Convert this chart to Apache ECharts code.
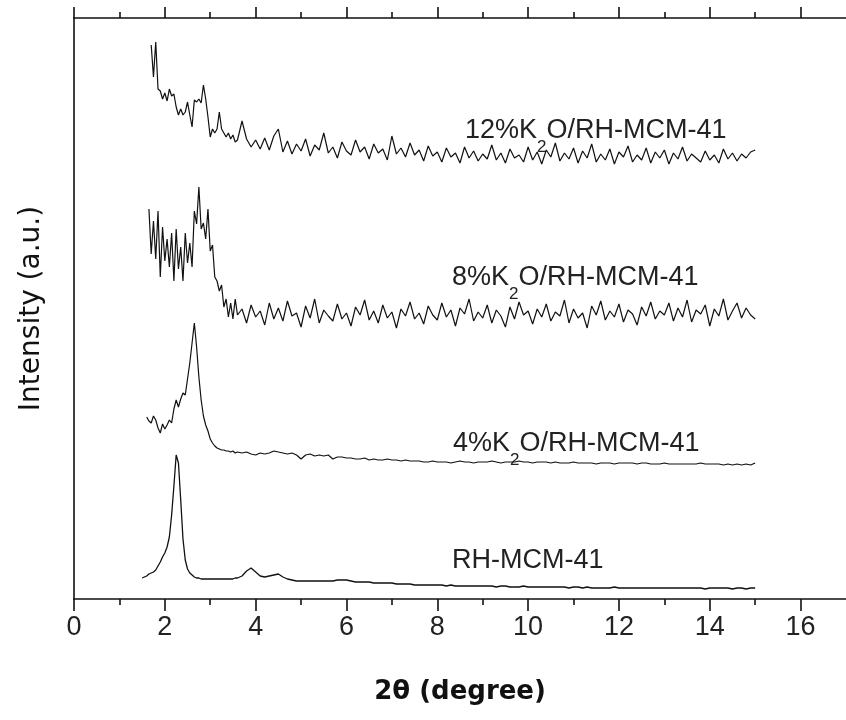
<!DOCTYPE html>
<html>
<head>
<meta charset="utf-8">
<script src="https://cdn.jsdelivr.net/npm/echarts@6/dist/echarts.min.js"></script>
<style>html,body{margin:0;padding:0;background:#fff}#c{width:846px;height:720px}</style>
</head>
<body>
<div id="c"></div>
<script>
// 2θ sampling positions (degree)
const twoTheta = [1.50,1.55,1.60,1.65,1.70,1.75,1.80,1.85,1.90,1.95,2.00,2.05,2.10,2.15,2.20,2.25,2.30,2.35,2.40,2.45,2.50,2.55,2.60,2.65,2.70,2.75,2.80,2.85,2.90,2.95,3.00,3.05,3.10,3.15,3.20,3.25,3.30,3.35,3.40,3.45,3.50,3.55,3.60,
3.7,3.8,3.9,4.0,4.1,4.2,4.3,4.4,4.5,4.6,
4.7,4.8,4.9,5.0,5.1,5.2,5.3,5.4,5.5,5.6,
5.7,5.8,5.9,6.0,6.1,6.2,6.3,6.4,6.5,6.6,
6.7,6.8,6.9,7.0,7.1,7.2,7.3,7.4,7.5,7.6,
7.7,7.8,7.9,8.0,8.1,8.2,8.3,8.4,8.5,8.6,
8.7,8.8,8.9,9.0,9.1,9.2,9.3,9.4,9.5,9.6,
9.7,9.8,9.9,10.0,10.1,10.2,10.3,10.4,10.5,10.6,
10.7,10.8,10.9,11.0,11.1,11.2,11.3,11.4,11.5,11.6,
11.7,11.8,11.9,12.0,12.1,12.2,12.3,12.4,12.5,12.6,
12.7,12.8,12.9,13.0,13.1,13.2,13.3,13.4,13.5,13.6,
13.7,13.8,13.9,14.0,14.1,14.2,14.3,14.4,14.5,14.6,
14.7,14.8,14.9,15.0];

// Intensity (a.u., stacked offsets as in the figure)
const rhMCM41 = [21,22,23,25,26,27,29,33,37,42,46,52,62,84,113,144,136,99,60,39,30,26,24,22,21,21,20,20,20,20,20,20,20,20,20,20,20,20,20,20,20,21,21,
23,28,31,27,23,22,23,24,25,22,
20,19,18,18,18,18,18,18,18,18,
18,19,19,19,18,17,17,17,17,16,
16,16,16,16,15,15,15,15,14,14,
14,14,14,14,14,13,14,13,13,13,
13,13,13,13,13,13,12,13,13,12,
12,12,13,12,12,12,12,12,12,12,
12,12,11,12,12,11,12,11,11,11,
11,11,12,11,11,11,11,11,11,11,
11,11,11,11,11,11,11,11,11,11,
11,11,10,11,11,11,11,11,10,11,
11,10,11,11];

const k2o4 = [null,null,182,178,176,183,179,171,166,175,170,174,179,176,190,199,192,200,206,204,220,236,256,276,252,222,199,183,174,168,160,156,153,151,150,149,149,148,148,147,148,146,147,
146,147,145,144,146,145,146,148,147,146,
145,146,144,140,144,145,143,144,143,144,
140,142,142,141,141,140,140,141,139,140,
139,139,140,139,139,138,139,138,138,138,
137,137,138,137,137,137,136,137,138,137,
137,136,137,137,137,138,137,136,137,137,
137,138,137,137,136,137,137,137,136,137,
136,136,136,137,136,136,136,136,135,136,
136,136,135,136,136,136,136,135,136,136,
135,135,135,136,135,135,135,135,135,135,
135,136,135,135,135,135,134,135,134,135,
134,135,134,136];

const k2o8 = [null,null,null,390,345,378,340,388,322,372,338,360,332,366,318,370,330,352,318,366,336,356,332,388,375,412,370,376,360,390,348,354,322,318,308,314,292,300,282,296,280,300,284,
290,276,294,282,288,274,296,280,291,278,
298,283,286,272,293,281,300,276,289,283,
278,295,280,286,273,292,284,299,279,288,
276,294,281,287,271,290,283,297,280,286,
275,293,284,279,296,282,289,273,291,285,
300,278,287,281,294,276,289,283,272,292,
280,297,284,288,275,290,282,295,278,287,
283,299,276,290,281,286,271,293,284,298,
279,288,282,295,277,289,285,274,292,283,
297,280,288,284,296,278,291,282,299,277,
289,285,294,273,290,283,300,279,288,296,
281,291,284,280];

const k2o12 = [null,null,null,null,554,522,557,510,508,500,506,498,510,503,505,492,484,490,484,487,497,484,472,499,497,500,496,514,500,482,462,470,466,470,487,470,466,462,466,460,464,457,459,
478,460,452,459,450,461,449,463,470,447,
458,445,455,448,460,443,454,449,466,446,
452,441,457,448,444,459,447,452,440,455,
446,450,439,463,445,451,442,456,444,449,
438,453,443,447,437,451,442,446,436,452,
441,448,438,445,440,454,439,446,436,450,
441,444,437,452,439,447,435,449,442,456,
438,446,440,451,436,448,441,455,437,445,
439,450,435,447,442,453,437,444,439,451,
436,447,441,449,435,446,440,452,438,445,
441,437,448,439,444,436,450,440,446,438,
445,441,447,449];

const seriesNames = ['RH-MCM-41','4%K2O/RH-MCM-41','8%K2O/RH-MCM-41','12%K2O/RH-MCM-41'];
const majorTicks = [0,2,4,6,8,10,12,14,16];
const minorTicks = [1,3,5,7,9,11,13,15];

function toPairs(ys){
  const out = [];
  for (let i = 0; i < twoTheta.length; i++) if (ys[i] != null) out.push([twoTheta[i], ys[i]]);
  return out;
}

const ink = '#111';
const lineSeries = (name, ys, w) => ({
  name, type:'line', data: toPairs(ys), showSymbol:false, symbol:'none',
  lineStyle:{color:ink, width:w}, xAxisIndex:0, yAxisIndex:0, animation:false
});

function xAx(pos, ticks, len, showLine, showLabel){
  return {
    type:'value', position:pos, min:0, max:17, gridIndex:0,
    axisLine:{show:showLine, onZero:false, lineStyle:{color:ink, width:1.6}},
    axisTick:{show:true, customValues:ticks, length:len, inside:false, lineStyle:{color:ink, width:1.6}},
    axisLabel:{show:showLabel, customValues:ticks, fontSize:27, fontFamily:'Liberation Sans', color:'#222', margin:15},
    splitLine:{show:false}
  };
}

const xMain = xAx('bottom', majorTicks, 12, true, true);
xMain.name = '2θ (degree)';
xMain.nameLocation = 'middle';
xMain.nameGap = 80;
xMain.nameTextStyle = {fontSize:26, fontWeight:'bold', fontFamily:'DejaVu Sans', color:'#111'};

const labelFont = {fontSize:27, fontFamily:'Liberation Sans', fill:'#222'};
function seriesLabel(x, y, main){
  return {
    type:'text', x, y, silent:true,
    style:Object.assign({
      text: main, align:'left', verticalAlign:'middle', lineHeight:30,
      rich:{ s:{fontSize:17, fontFamily:'Liberation Sans', fill:'#222', lineHeight:17, padding:[32,0,0,0]} }
    }, labelFont)
  };
}

const chart = echarts.init(document.getElementById('c'), null, {renderer:'canvas'});
chart.setOption({
  animation:false,
  backgroundColor:'#fff',
  grid:{left:74, top:18, width:778, height:581, containLabel:false},
  xAxis:[
    xMain,
    xAx('bottom', minorTicks, 6, false, false),
    xAx('top', majorTicks, 11, true, false),
    xAx('top', minorTicks, 6, false, false)
  ],
  yAxis:{
    type:'value', min:0, max:581,
    axisLine:{show:true, onZero:false, lineStyle:{color:ink, width:1.6}},
    axisTick:{show:false}, axisLabel:{show:false}, splitLine:{show:false},
    name:'Intensity (a.u.)', nameLocation:'middle', nameGap:28,
    nameTextStyle:{fontSize:28, fontFamily:'DejaVu Sans', color:'#111'}
  },
  series:[
    lineSeries(seriesNames[0], rhMCM41, 1.3),
    lineSeries(seriesNames[1], k2o4, 1.2),
    lineSeries(seriesNames[2], k2o8, 1.2),
    lineSeries(seriesNames[3], k2o12, 1.2)
  ],
  graphic:[
    seriesLabel(465, 131, '12%K{s|2}O/RH-MCM-41'),
    seriesLabel(452, 278, '8%K{s|2}O/RH-MCM-41'),
    seriesLabel(453, 444, '4%K{s|2}O/RH-MCM-41'),
    seriesLabel(452, 561, 'RH-MCM-41')
  ]
});
</script>
</body>
</html>
